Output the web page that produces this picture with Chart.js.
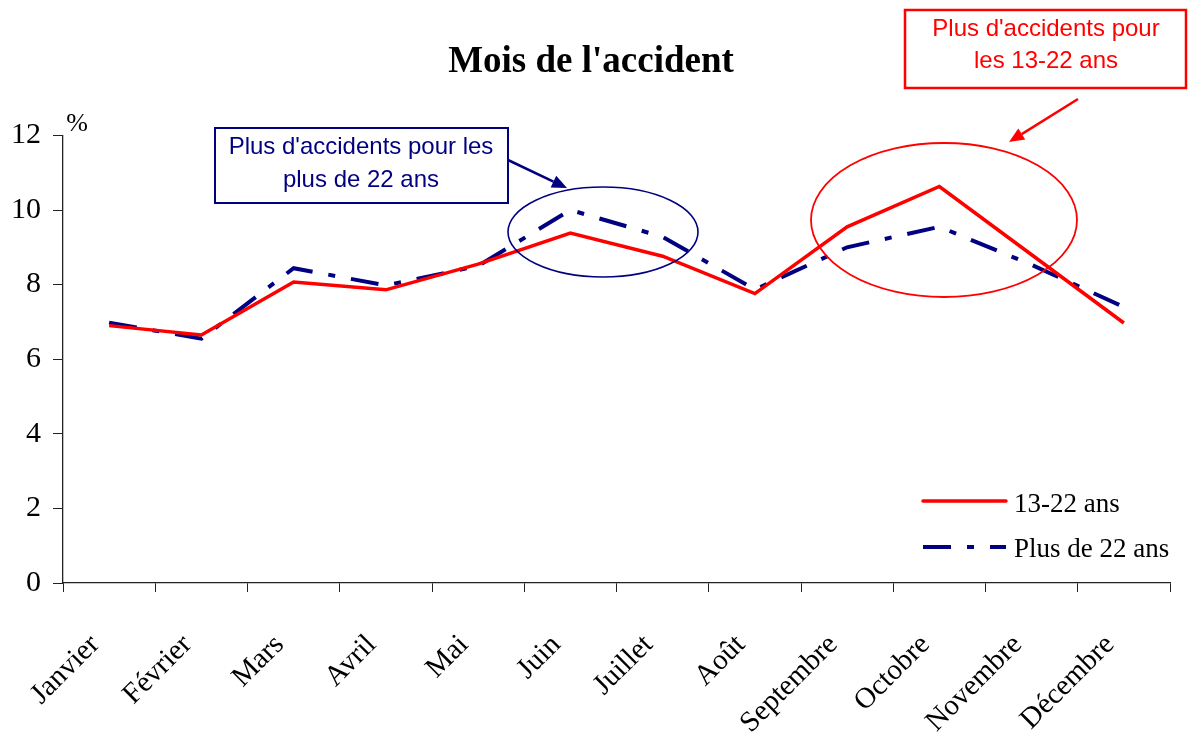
<!DOCTYPE html>
<html><head><meta charset="utf-8">
<script src="https://cdn.jsdelivr.net/npm/chart.js@4.4.0/dist/chart.umd.min.js"></script>
<style>html,body{margin:0;padding:0;background:#fff;overflow:hidden}#wrap{width:1190px;height:733px;position:relative}</style>
</head><body><div id="wrap"><canvas id="c" width="1190" height="733"></canvas></div>
<script>
const months = ['Janvier','Février','Mars','Avril','Mai','Juin','Juillet','Août','Septembre','Octobre','Novembre','Décembre'];
const jeunes = [6.9, 6.65, 8.07, 7.86, 8.55, 9.38, 8.76, 7.76, 9.55, 10.63, 8.8, 6.97];
const adultes = [6.98, 6.55, 8.44, 7.98, 8.5, 10.0, 9.28, 7.87, 9.0, 9.55, 8.53, 7.4];
const seriesLabels = ['13-22 ans', 'Plus de 22 ans'];
const yMin = 0, yMax = 12, yStep = 2;
const titleText = "Mois de l'accident";
const unitLabel = '%';
const noteBlue = ["Plus d'accidents pour les", 'plus de 22 ans'];
const noteRed = ["Plus d'accidents pour", 'les 13-22 ans'];

const RED = '#FF0000', NAVY = '#000080';
const BLUE_DASH = [28, 16, 7, 16];
const SERIF = "'Liberation Serif','Times New Roman',serif";
const SANS = "'Liberation Sans',Arial,sans-serif";

function arrow(ctx, x1, y1, x2, y2, color) {
  ctx.save();
  ctx.strokeStyle = color; ctx.fillStyle = color; ctx.lineWidth = 2.5;
  const a = Math.atan2(y2 - y1, x2 - x1), L = 15, W = 6.5;
  const bx = x2 - L * Math.cos(a), by = y2 - L * Math.sin(a);
  ctx.beginPath(); ctx.moveTo(x1, y1); ctx.lineTo(bx, by); ctx.stroke();
  ctx.beginPath(); ctx.moveTo(x2, y2);
  ctx.lineTo(bx + W * Math.sin(a), by - W * Math.cos(a));
  ctx.lineTo(bx - W * Math.sin(a), by + W * Math.cos(a));
  ctx.closePath(); ctx.fill();
  ctx.restore();
}

const decor = {
  id: 'decor',
  afterDraw(chart) {
    const ctx = chart.ctx;
    ctx.save();
    ctx.fillStyle = '#000';
    ctx.font = '26px ' + SERIF;
    ctx.textAlign = 'center'; ctx.textBaseline = 'alphabetic';
    ctx.fillText(unitLabel, 77, 131);

    const ds = chart.data.datasets;
    const leg = [{y: 501, ty: 512}, {y: 547, ty: 557}];
    ds.forEach((d, i) => {
      ctx.save();
      ctx.strokeStyle = d.borderColor; ctx.lineWidth = d.borderWidth;
      ctx.setLineDash(d.borderDash || []);
      ctx.lineCap = i === 0 ? 'round' : 'butt';
      ctx.beginPath(); ctx.moveTo(923, leg[i].y); ctx.lineTo(1006, leg[i].y); ctx.stroke();
      ctx.restore();
      ctx.fillStyle = '#000';
      ctx.font = '27px ' + SERIF;
      ctx.textAlign = 'left'; ctx.textBaseline = 'alphabetic';
      ctx.fillText(d.label, 1014, leg[i].ty);
    });

    ctx.strokeStyle = NAVY; ctx.lineWidth = 2;
    ctx.strokeRect(215, 128, 293, 75);
    ctx.fillStyle = NAVY; ctx.font = '24px ' + SANS; ctx.textAlign = 'center';
    ctx.fillText(noteBlue[0], 361, 154);
    ctx.fillText(noteBlue[1], 361, 187);
    arrow(ctx, 508, 160, 567, 188, NAVY);
    ctx.lineWidth = 1.6;
    ctx.beginPath(); ctx.ellipse(603, 232, 95, 45, 0, 0, Math.PI * 2); ctx.stroke();

    ctx.strokeStyle = RED; ctx.lineWidth = 2.5;
    ctx.strokeRect(905, 10, 281, 78);
    ctx.fillStyle = RED; ctx.font = '24px ' + SANS; ctx.textAlign = 'center';
    ctx.fillText(noteRed[0], 1046, 36);
    ctx.fillText(noteRed[1], 1046, 68);
    arrow(ctx, 1078, 99, 1009, 142, RED);
    ctx.lineWidth = 1.8;
    ctx.beginPath(); ctx.ellipse(944, 220, 133, 77, 0, 0, Math.PI * 2); ctx.stroke();
    ctx.restore();
  }
};

new Chart(document.getElementById('c'), {
  type: 'line',
  data: {
    labels: months,
    datasets: [
      {label: seriesLabels[0], data: jeunes, borderColor: RED, backgroundColor: RED, borderWidth: 3.5, pointRadius: 0, tension: 0, fill: false, borderJoinStyle: 'miter'},
      {label: seriesLabels[1], data: adultes, borderColor: NAVY, backgroundColor: NAVY, borderWidth: 4, borderDash: BLUE_DASH, pointRadius: 0, tension: 0, fill: false}
    ]
  },
  options: {
    responsive: false, animation: false, devicePixelRatio: 1,
    layout: {padding: {left: 12, right: 20, top: 0, bottom: 0}},
    plugins: {
      legend: {display: false},
      tooltip: {enabled: false},
      title: {display: true, text: titleText, color: '#000',
        font: {family: SERIF, size: 37, weight: 'bold'},
        padding: {top: 40, bottom: 51}}
    },
    scales: {
      x: {
        type: 'category', offset: true,
        grid: {offset: true, drawOnChartArea: false, drawTicks: true, tickLength: 9, color: '#222', lineWidth: 1},
        border: {display: true, color: '#222', width: 1.3},
        ticks: {color: '#000', font: {family: SERIF, size: 29}, minRotation: 45, maxRotation: 45, autoSkip: false, padding: 36, labelOffset: -14},
        afterFit(s) { s.height = 150; }
      },
      y: {
        min: yMin, max: yMax,
        grid: {drawOnChartArea: false, drawTicks: true, tickLength: 10, color: '#222', lineWidth: 1},
        border: {display: true, color: '#222', width: 1.3},
        ticks: {stepSize: yStep, color: '#000', font: {family: SERIF, size: 30}, padding: 12},
        afterFit(s) { s.width = 51; }
      }
    }
  },
  plugins: [decor]
});
</script></body></html>
